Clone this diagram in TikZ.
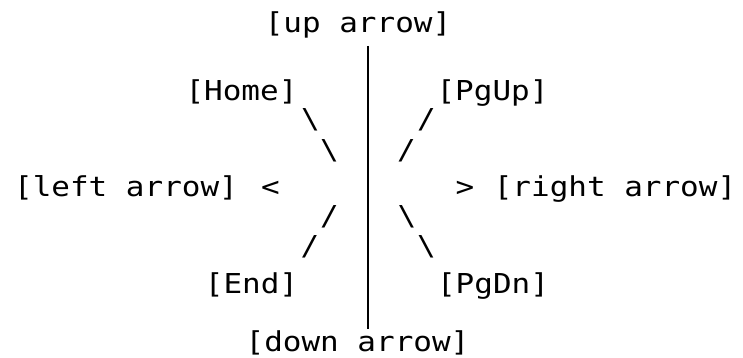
\documentclass[tikz,border=0pt]{standalone}
\usepackage{fontspec}
\newfontfamily\kbdfont[FakeStretch=1.13]{DejaVu Sans Mono}
\begin{document}
\begin{tikzpicture}[x=1pt,y=-1pt,
  lbl/.style={inner sep=0pt,anchor=base,font=\kbdfont\fontsize{27.4}{32}\selectfont},
  vline/.style={line width=1.6pt,black}]
\useasboundingbox (0,0) rectangle (743,358);
% keys
\node[lbl] (up)    at (358,33)  {[up arrow]};
\node[lbl] (home)  at (241.5,101) {[Home]};
\node[lbl] (pgup)  at (492.5,101) {[PgUp]};
\node[lbl] (left)  at (126,196) {[left arrow]};
\node[lbl] (lt)    at (270.5,196) {<};
\node[lbl] (gt)    at (465,196) {>};
\node[lbl] (right) at (615,196) {[right arrow]};
\node[lbl] (end)   at (251.5,293) {[End]};
\node[lbl] (pgdn)  at (493,293) {[PgDn]};
\node[lbl] (down)  at (357.5,351) {[down arrow]};
% diagonal strokes
\node[lbl] (h1) at (310.5,129) {\textbackslash};
\node[lbl] (h2) at (329.5,160) {\textbackslash};
\node[lbl] (u1) at (426.5,129) {/};
\node[lbl] (u2) at (406.5,160) {/};
\node[lbl] (e1) at (329.5,225) {/};
\node[lbl] (e2) at (310,255) {/};
\node[lbl] (d1) at (407,225) {\textbackslash};
\node[lbl] (d2) at (426.5,255) {\textbackslash};
% vertical stroke
\coordinate (vt) at (368,46);
\coordinate (vb) at (368,329);
\draw[vline] (vt) -- (vb);
\end{tikzpicture}
\end{document}
